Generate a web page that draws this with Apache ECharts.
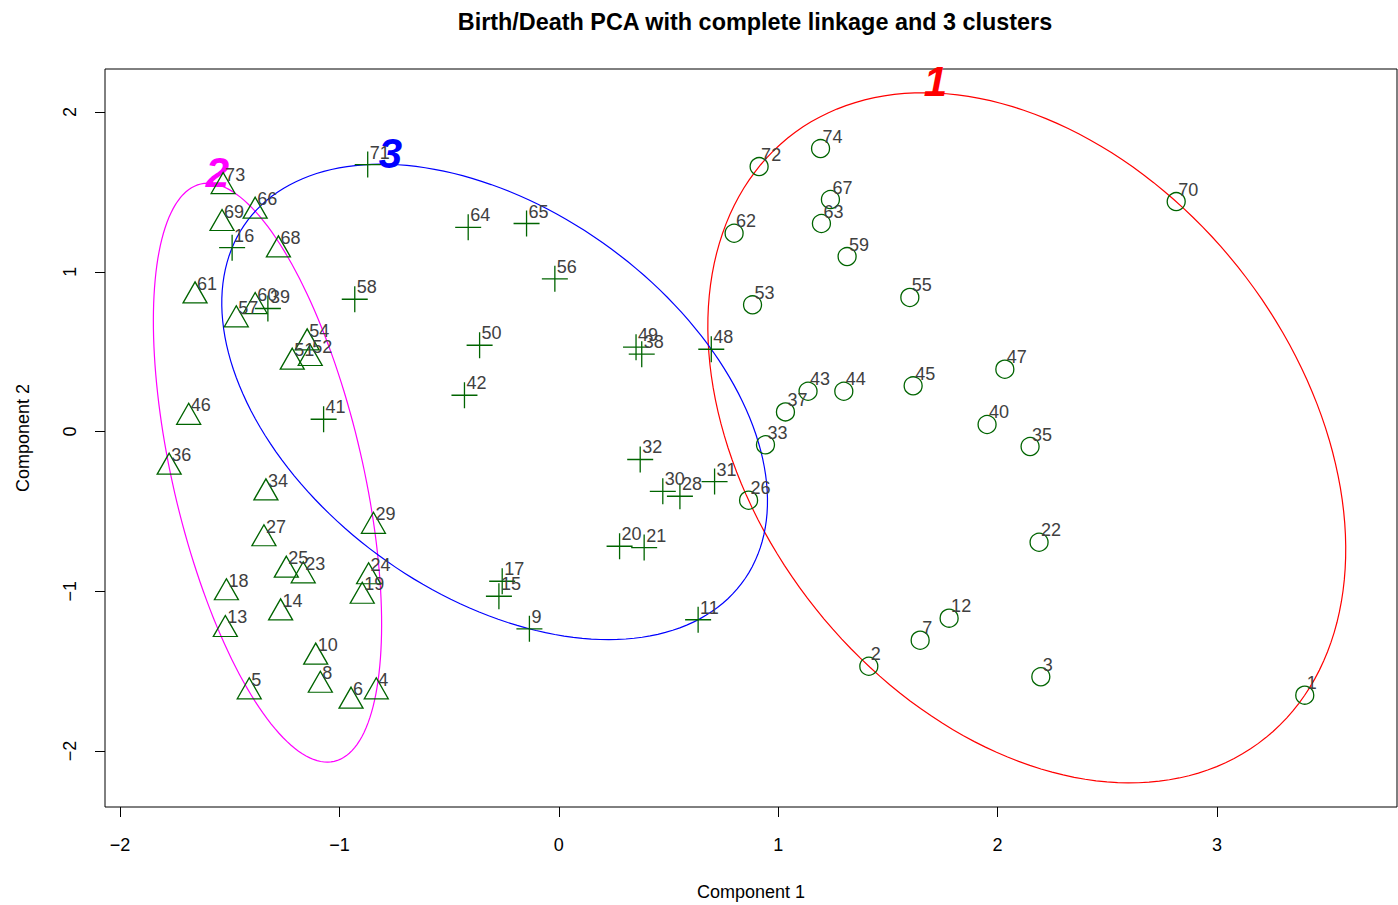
<!DOCTYPE html>
<html>
<head>
<meta charset="utf-8">
<script src="https://cdn.jsdelivr.net/npm/echarts@6/dist/echarts.min.js"></script>
<style>
  html, body { margin: 0; padding: 0; background: #ffffff; }
  #chart { width: 1398px; height: 905px; }
</style>
</head>
<body>
<div id="chart"></div>
<script>
// Principal component scores of the 74 countries, grouped by cluster.
// Cluster 1 (circles)
const c1Ids = [1, 2, 3, 7, 12, 22, 26, 33, 35, 37, 40, 43, 44, 45, 47, 53, 55, 59, 62, 63, 67, 70, 72, 74];
const c1X = [3.400, 1.413, 2.197, 1.647, 1.779, 2.189, 0.865, 0.942, 2.148, 1.033, 1.952, 1.136, 1.299, 1.615, 2.033, 0.883, 1.600, 1.314, 0.799, 1.197, 1.238, 2.814, 0.913, 1.193];
const c1Y = [-1.650, -1.469, -1.535, -1.306, -1.168, -0.693, -0.430, -0.083, -0.094, 0.123, 0.044, 0.252, 0.252, 0.286, 0.390, 0.793, 0.839, 1.095, 1.241, 1.302, 1.452, 1.439, 1.658, 1.771];

// Cluster 2 (triangles)
const c2Ids = [4, 5, 6, 8, 10, 13, 14, 18, 19, 23, 24, 25, 27, 29, 34, 36, 46, 51, 52, 54, 57, 60, 61, 66, 68, 69, 73];
const c2X = [-0.832, -1.411, -0.947, -1.087, -1.108, -1.520, -1.268, -1.515, -0.896, -1.165, -0.867, -1.242, -1.344, -0.845, -1.335, -1.776, -1.687, -1.215, -1.133, -1.147, -1.470, -1.384, -1.658, -1.384, -1.278, -1.535, -1.530];
const c2Y = [-1.629, -1.629, -1.688, -1.588, -1.412, -1.239, -1.135, -1.009, -1.031, -0.903, -0.909, -0.868, -0.671, -0.593, -0.384, -0.223, 0.089, 0.434, 0.457, 0.555, 0.699, 0.782, 0.849, 1.379, 1.137, 1.302, 1.533];

// Cluster 3 (plus signs)
const c3Ids = [9, 11, 15, 16, 17, 20, 21, 28, 30, 31, 32, 38, 39, 41, 42, 48, 49, 50, 56, 58, 64, 65, 71];
const c3X = [-0.134, 0.635, -0.273, -1.489, -0.258, 0.277, 0.389, 0.552, 0.474, 0.710, 0.371, 0.378, -1.326, -1.072, -0.430, 0.695, 0.352, -0.361, -0.018, -0.930, -0.413, -0.147, -0.871];
const c3Y = [-1.235, -1.178, -1.031, 1.151, -0.937, -0.718, -0.726, -0.405, -0.374, -0.313, -0.175, 0.484, 0.770, 0.077, 0.227, 0.515, 0.528, 0.540, 0.956, 0.828, 1.278, 1.302, 1.671];

const tickValues = [-2, -1, 0, 1, 2, 3];
const yTickValues = [-2, -1, 0, 1, 2];
const clusterNames = ['1', '2', '3'];

const FONT = '"Liberation Sans", Arial, Helvetica, sans-serif';
const POINT_COLOR = '#006400';
const ELLIPSE_COLORS = ['#ff0000', '#ff00ff', '#0000ff'];

// Minimum-volume ellipse spanning a set of points (Khachiyan iterations),
// scaled so the farthest point lies on the boundary.
function spanEllipse(xs, ys) {
  const n = xs.length;
  let u = new Array(n).fill(1 / n);
  for (let it = 0; it < 50000; it++) {
    let a = 0, b = 0, c = 0, d = 0, e = 0, f = 0;
    for (let i = 0; i < n; i++) {
      const w = u[i], x = xs[i], y = ys[i];
      a += w * x * x; b += w * x * y; c += w * x;
      d += w * y * y; e += w * y; f += w;
    }
    // inverse of [[a,b,c],[b,d,e],[c,e,f]]
    const A11 = d * f - e * e, A12 = -(b * f - c * e), A13 = b * e - c * d;
    const A22 = a * f - c * c, A23 = -(a * e - b * c), A33 = a * d - b * b;
    const det = a * A11 + b * A12 + c * A13;
    let best = -1, j = 0;
    for (let i = 0; i < n; i++) {
      const x = xs[i], y = ys[i];
      const m = (A11 * x * x + A22 * y * y + A33 + 2 * A12 * x * y + 2 * A13 * x + 2 * A23 * y) / det;
      if (m > best) { best = m; j = i; }
    }
    const step = (best - 3) / (3 * (best - 1));
    if (step < 1e-10) break;
    for (let i = 0; i < n; i++) u[i] *= (1 - step);
    u[j] += step;
  }
  let cx = 0, cy = 0;
  for (let i = 0; i < n; i++) { cx += u[i] * xs[i]; cy += u[i] * ys[i]; }
  let sxx = 0, sxy = 0, syy = 0;
  for (let i = 0; i < n; i++) {
    const dx = xs[i] - cx, dy = ys[i] - cy;
    sxx += u[i] * dx * dx; sxy += u[i] * dx * dy; syy += u[i] * dy * dy;
  }
  const det = sxx * syy - sxy * sxy;
  let d2 = 0;
  for (let i = 0; i < n; i++) {
    const dx = xs[i] - cx, dy = ys[i] - cy;
    const m = (syy * dx * dx - 2 * sxy * dx * dy + sxx * dy * dy) / det;
    if (m > d2) d2 = m;
  }
  const mid = (sxx + syy) / 2;
  const rad = Math.sqrt(((sxx - syy) / 2) ** 2 + sxy * sxy);
  const l1 = mid + rad, l2 = Math.max(mid - rad, 0);
  const th = 0.5 * Math.atan2(2 * sxy, sxx - syy);
  const ra = Math.sqrt(d2 * l1), rb = Math.sqrt(d2 * l2);
  const ring = [];
  const N = 180;
  let top = null;
  for (let k = 0; k <= N; k++) {
    const t = (2 * Math.PI * k) / N;
    const p = ra * Math.cos(t), q = rb * Math.sin(t);
    const pt = [cx + p * Math.cos(th) - q * Math.sin(th), cy + p * Math.sin(th) + q * Math.cos(th)];
    ring.push(pt);
    if (!top || pt[1] > top[1]) top = pt;
  }
  return { center: [cx, cy], ring, top };
}

const clusters = [
  { ids: c1Ids, xs: c1X, ys: c1Y },
  { ids: c2Ids, xs: c2X, ys: c2Y },
  { ids: c3Ids, xs: c3X, ys: c3Y }
];
const ellipses = clusters.map(c => spanEllipse(c.xs, c.ys));

function pointsOf(c) {
  return c.ids.map((id, i) => [c.xs[i], c.ys[i], id]);
}

const labelBase = {
  show: true,
  position: 'inside',
  align: 'left',
  verticalAlign: 'middle',
  color: '#404040',
  fontSize: 18,
  fontFamily: FONT,
  formatter: p => String(p.value[2])
};

const markerSeries = [
  {
    type: 'scatter',
    data: pointsOf(clusters[0]),
    symbol: 'circle',
    symbolSize: 18,
    itemStyle: { color: 'transparent', borderColor: POINT_COLOR, borderWidth: 1.3, opacity: 1 },
    label: Object.assign({}, labelBase, { offset: [2, -12] })
  },
  {
    type: 'scatter',
    data: pointsOf(clusters[1]),
    symbol: 'triangle',
    symbolSize: [24, 21],
    symbolOffset: [0, -3.5],
    itemStyle: { color: 'transparent', borderColor: POINT_COLOR, borderWidth: 1.3, opacity: 1 },
    label: Object.assign({}, labelBase, { offset: [2, -8.5] })
  },
  {
    type: 'scatter',
    data: pointsOf(clusters[2]),
    symbol: 'path://M0,0 L2,0 M1,-1 L1,1',
    symbolSize: 26,
    itemStyle: { color: 'transparent', borderColor: POINT_COLOR, borderWidth: 1.3, opacity: 1 },
    label: Object.assign({}, labelBase, { offset: [2, -12] })
  }
];

const ellipseSeries = ellipses.map((el, k) => ({
  type: 'custom',
  clip: false,
  silent: true,
  data: [el.center],
  encode: { x: 0, y: 1 },
  renderItem: (params, api) => {
    const pts = el.ring.map(p => api.coord(p));
    const top = api.coord(el.top);
    return {
      type: 'group',
      children: [
        {
          type: 'polyline',
          shape: { points: pts },
          style: { stroke: ELLIPSE_COLORS[k], fill: null, lineWidth: 1.2 }
        },
        {
          type: 'text',
          x: top[0] + 10,
          y: top[1] - 11,
          style: {
            text: clusterNames[k],
            fill: ELLIPSE_COLORS[k],
            font: 'italic bold 42px ' + FONT,
            align: 'center',
            verticalAlign: 'middle'
          }
        }
      ]
    };
  }
}));

const chart = echarts.init(document.getElementById('chart'), null, { renderer: 'svg' });
chart.setOption({
  animation: false,
  backgroundColor: '#ffffff',
  title: {
    text: 'Birth/Death PCA with complete linkage and 3 clusters',
    left: 750,
    top: 5,
    textAlign: 'center',
    textStyle: { fontFamily: FONT, fontSize: 23.4, fontWeight: 'bold', color: '#000' }
  },
  grid: {
    left: 105, right: 1, top: 69, bottom: 98,
    outerBoundsMode: 'none',
    show: true, borderColor: '#000', borderWidth: 1, backgroundColor: 'transparent'
  },
  xAxis: {
    type: 'value',
    min: -2.0684, max: 3.8204,
    name: 'Component 1',
    nameLocation: 'middle',
    nameGap: 76,
    nameTextStyle: { fontFamily: FONT, fontSize: 18, color: '#000' },
    axisLine: { show: false, onZero: false },
    splitLine: { show: false },
    axisTick: { show: true, length: 10, customValues: tickValues, lineStyle: { color: '#000', width: 1 } },
    axisLabel: { customValues: tickValues, fontFamily: FONT, fontSize: 18, color: '#000', margin: 29,
      formatter: v => (v < 0 ? '\u2212' + Math.abs(v) : String(v)) }
  },
  yAxis: {
    type: 'value',
    min: -2.350, max: 2.269,
    name: 'Component 2',
    nameLocation: 'middle',
    nameGap: 73,
    nameRotate: 90,
    nameTextStyle: { fontFamily: FONT, fontSize: 18, color: '#000' },
    axisLine: { show: false, onZero: false },
    splitLine: { show: false },
    axisTick: { show: true, length: 10, customValues: yTickValues, lineStyle: { color: '#000', width: 1 } },
    axisLabel: { customValues: yTickValues, rotate: 90, fontFamily: FONT, fontSize: 18, color: '#000', margin: 26,
      formatter: v => (v < 0 ? '\u2212' + Math.abs(v) : String(v)) }
  },
  series: markerSeries.concat(ellipseSeries)
});
</script>
</body>
</html>
